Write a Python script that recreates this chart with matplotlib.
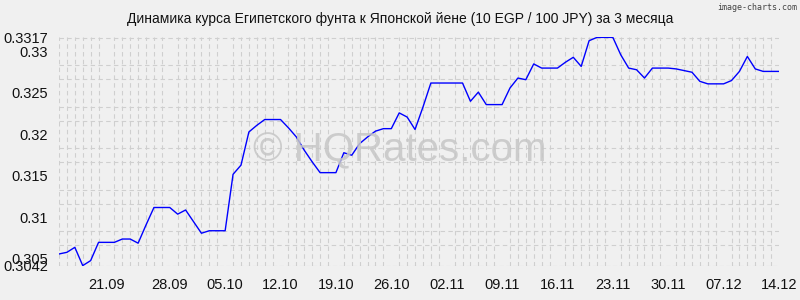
import numpy as np
import matplotlib
matplotlib.use("Agg")
import matplotlib.pyplot as plt

# Курс 10 EGP / 100 JPY, по дням с 14.09 по 14.12
rates = [
    0.3056, 0.3058, 0.3064, 0.3042, 0.3048, 0.3070, 0.3070, 0.3070, 0.3074, 0.3074,
    0.3069, 0.3091, 0.3112, 0.3112, 0.3112, 0.3104, 0.3109, 0.3095, 0.3081, 0.3084,
    0.3084, 0.3084, 0.3152, 0.3163, 0.3203, 0.3211, 0.3218, 0.3218, 0.3218, 0.3208,
    0.3197, 0.3181, 0.3167, 0.3154, 0.3154, 0.3154, 0.3178, 0.3175, 0.3189, 0.3197,
    0.3204, 0.3207, 0.3207, 0.3226, 0.3221, 0.3206, 0.3233, 0.3262, 0.3262, 0.3262,
    0.3262, 0.3262, 0.3240, 0.3251, 0.3236, 0.3236, 0.3236, 0.3256, 0.3268, 0.3266,
    0.3285, 0.3280, 0.3280, 0.3280, 0.3287, 0.3293, 0.3282, 0.3313, 0.3317, 0.3317,
    0.3317, 0.3296, 0.3280, 0.3278, 0.3268, 0.3280, 0.3280, 0.3280, 0.3279, 0.3277,
    0.3275, 0.3264, 0.3261, 0.3261, 0.3261, 0.3265, 0.3276, 0.3294, 0.3279, 0.3276,
    0.3276, 0.3276,
]
date_labels = ["21.09", "28.09", "05.10", "12.10", "19.10", "26.10", "02.11",
               "09.11", "16.11", "23.11", "30.11", "07.12", "14.12"]
date_pos = [6, 14, 21, 28, 35, 42, 49, 56, 63, 70, 77, 84, 91]
y_labels = [0.3042, 0.305, 0.31, 0.315, 0.32, 0.325, 0.33, 0.3317]

bg = "#f0f0f0"
plt.rcParams["font.family"] = ["Liberation Sans", "DejaVu Sans"]

fig = plt.figure(figsize=(8, 3), dpi=100, facecolor=bg)
ax = fig.add_axes([0.07375, 0.1147, 0.9, 0.7607], facecolor=bg)

days = np.arange(len(rates))
ax.plot(days, rates, color="#0000ff", lw=1.0, zorder=3)

ax.set_xlim(0, len(rates) - 1)
ax.set_ylim(min(y_labels), max(y_labels))

ax.set_xticks(date_pos)
ax.set_xticklabels(date_labels)
ax.set_xticks(days, minor=True)
ax.set_yticks(y_labels)
ax.set_yticklabels([f"{v:g}" for v in y_labels])
ax.set_yticks(np.arange(0.305, 0.3318, 0.005 / 3), minor=True)

ax.tick_params(which="both", length=0, labelsize=10.5, colors="#111111")
ax.tick_params(axis="x", pad=9)
ax.tick_params(axis="y", pad=8)

ax.grid(which="minor", color="#cfcfcf", linestyle=(0, (4, 3)), lw=0.8)
ax.axhline(min(y_labels), color="#c8c8c8", lw=0.8, linestyle=(0, (4, 2)))
for s in ax.spines.values():
    s.set_visible(False)

fig.text(0.5, 0.937, "Динамика курса Египетского фунта к Японской йене (10 EGP / 100 JPY) за 3 месяца",
         ha="center", va="center", fontsize=10, color="#111111")
fig.text(0.997, 0.99, "image-charts.com", ha="right", va="top",
         fontsize=6, family="DejaVu Sans Mono", color="#444444")
fig.text(0.5, 0.5, "© HQRates.com", ha="center", va="center",
         fontsize=29, color="#c6c6c6", alpha=0.85, zorder=0)

fig.savefig("out.png", dpi=100, facecolor=bg)
